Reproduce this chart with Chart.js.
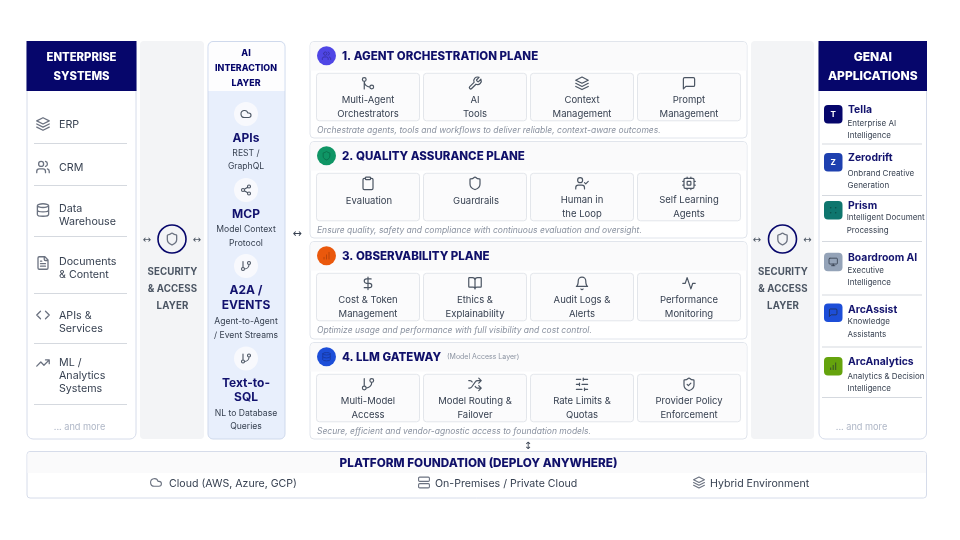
<!DOCTYPE html>
<html>
<head>
<meta charset="utf-8">
<title>Enterprise AI platform</title>
<script src="https://cdn.jsdelivr.net/npm/chart.js@4/dist/chart.umd.min.js"></script>
<style>
    html, body { margin: 0; padding: 0; background: #fff; }
    canvas { display: block; }
</style>
</head>
<body>
<canvas id="diagram" width="960" height="540"></canvas>
<script>
// text content of the diagram
const enterpriseTitle = ['ENTERPRISE', 'SYSTEMS'];
const enterpriseItems = ['ERP', 'CRM', 'Data\nWarehouse', 'Documents\n& Content', 'APIs &\nServices', 'ML /\nAnalytics\nSystems'];
const moreLabel = '... and more';
const securityLabel = ['SECURITY', '& ACCESS', 'LAYER'];
const interactionTitle = ['AI', 'INTERACTION', 'LAYER'];
const interactionNames = ['APIs', 'MCP', 'A2A /\nEVENTS', 'Text-to-\nSQL'];
const interactionNotes = ['REST /\nGraphQL', 'Model Context\nProtocol', 'Agent-to-Agent\n/ Event Streams', 'NL to Database\nQueries'];
const planeTitles = ['1. AGENT ORCHESTRATION PLANE', '2. QUALITY ASSURANCE PLANE', '3. OBSERVABILITY PLANE', '4. LLM GATEWAY'];
const planeCards = [
    ['Multi-Agent\nOrchestrators', 'AI\nTools', 'Context\nManagement', 'Prompt\nManagement'],
    ['Evaluation', 'Guardrails', 'Human in\nthe Loop', 'Self Learning\nAgents'],
    ['Cost & Token\nManagement', 'Ethics &\nExplainability', 'Audit Logs &\nAlerts', 'Performance\nMonitoring'],
    ['Multi-Model\nAccess', 'Model Routing &\nFailover', 'Rate Limits &\nQuotas', 'Provider Policy\nEnforcement']
];
const planeNotes = [
    'Orchestrate agents, tools and workflows to deliver reliable, context-aware outcomes.',
    'Ensure quality, safety and compliance with continuous evaluation and oversight.',
    'Optimize usage and performance with full visibility and cost control.',
    'Secure, efficient and vendor-agnostic access to foundation models.'
];
const gatewayNote = '(Model Access Layer)';
const appsTitle = ['GENAI', 'APPLICATIONS'];
const appNames = ['Tella', 'Zerodrift', 'Prism', 'Boardroom AI', 'ArcAssist', 'ArcAnalytics'];
const appNotes = ['Enterprise AI\nIntelligence', 'Onbrand Creative\nGeneration', 'Intelligent Document\nProcessing', 'Executive\nIntelligence', 'Knowledge\nAssistants', 'Analytics & Decision\nIntelligence'];
const foundationTitle = 'PLATFORM FOUNDATION (DEPLOY ANYWHERE)';
const foundationItems = ['Cloud (AWS, Azure, GCP)', 'On-Premises / Private Cloud', 'Hybrid Environment'];

const NAVY = '#06066b';
const BORDER = '#d6dcea';
const BODY = 'Inter, sans-serif';

// lucide style glyphs on a 24 unit grid
function ring(x, y, r) {
    return `M${x - r} ${y}a${r} ${r} 0 1 0 ${2 * r} 0a${r} ${r} 0 1 0 ${-2 * r} 0`;
}
const glyphs = {
    layers: 'M12 2 2 7l10 5 10-5-10-5ZM2 17l10 5 10-5M2 12l10 5 10-5',
    users: 'M16 21v-2a4 4 0 0 0-4-4H6a4 4 0 0 0-4 4v2' + ring(9, 7, 4) + 'M22 21v-2a4 4 0 0 0-3-3.87M16 3.13a4 4 0 0 1 0 7.75',
    database: 'M3 5a9 3 0 1 0 18 0a9 3 0 1 0-18 0M3 5V19A9 3 0 0 0 21 19V5M3 12A9 3 0 0 0 21 12',
    file: 'M15 2H6a2 2 0 0 0-2 2v16a2 2 0 0 0 2 2h12a2 2 0 0 0 2-2V7ZM14 2v4a2 2 0 0 0 2 2h4M10 9H8M16 13H8M16 17H8',
    code: 'M16 18l6-6-6-6M8 6l-6 6 6 6',
    trend: 'M22 7 13.5 15.5 8.5 10.5 2 17M16 7h6v6',
    shield: 'M20 13c0 5-3.5 7.5-7.66 8.95a1 1 0 0 1-.67-.01C7.5 20.5 4 18 4 13V6a1 1 0 0 1 1-1c2 0 4.5-1.2 6.24-2.72a1.17 1.17 0 0 1 1.52 0C14.51 3.81 17 5 19 5a1 1 0 0 1 1 1z',
    shieldCheck: 'M20 13c0 5-3.5 7.5-7.66 8.95a1 1 0 0 1-.67-.01C7.5 20.5 4 18 4 13V6a1 1 0 0 1 1-1c2 0 4.5-1.2 6.24-2.72a1.17 1.17 0 0 1 1.52 0C14.51 3.81 17 5 19 5a1 1 0 0 1 1 1zM9 12l2 2 4-4',
    cloud: 'M17.5 19H9a7 7 0 1 1 6.71-9h1.79a4.5 4.5 0 1 1 0 9Z',
    share: ring(18, 5, 3) + ring(6, 12, 3) + ring(18, 19, 3) + 'M8.59 13.51 15.42 17.49M15.41 6.51 8.59 10.49',
    branch: 'M6 3V15' + ring(18, 6, 3) + ring(6, 18, 3) + 'M18 9a9 9 0 0 1-9 9',
    merge: ring(18, 18, 3) + ring(6, 6, 3) + 'M6 21V9a9 9 0 0 0 9 9',
    wrench: 'M14.7 6.3a1 1 0 0 0 0 1.4l1.6 1.6a1 1 0 0 0 1.4 0l3.77-3.77a6 6 0 0 1-7.94 7.94l-6.91 6.91a2.12 2.12 0 0 1-3-3l6.91-6.91a6 6 0 0 1 7.94-7.94l-3.76 3.76z',
    message: 'M21 15a2 2 0 0 1-2 2H7l-4 4V5a2 2 0 0 1 2-2h14a2 2 0 0 1 2 2z',
    clipboard: 'M9 2h6a1 1 0 0 1 1 1v2a1 1 0 0 1-1 1H9a1 1 0 0 1-1-1V3a1 1 0 0 1 1-1M16 4h2a2 2 0 0 1 2 2v14a2 2 0 0 1-2 2H6a2 2 0 0 1-2-2V6a2 2 0 0 1 2-2h2',
    userCheck: 'M16 21v-2a4 4 0 0 0-4-4H6a4 4 0 0 0-4 4v2' + ring(9, 7, 4) + 'M16 11l2 2 4-4',
    cpu: 'M6 4h12a2 2 0 0 1 2 2v12a2 2 0 0 1-2 2H6a2 2 0 0 1-2-2V6a2 2 0 0 1 2-2M10 9h4a1 1 0 0 1 1 1v4a1 1 0 0 1-1 1h-4a1 1 0 0 1-1-1v-4a1 1 0 0 1 1-1M15 2v2M15 20v2M2 15h2M2 9h2M20 15h2M20 9h2M9 2v2M9 20v2',
    dollar: 'M12 2V22M17 5H9.5a3.5 3.5 0 0 0 0 7h5a3.5 3.5 0 0 1 0 7H6',
    book: 'M12 7v14M3 18a1 1 0 0 1-1-1V4a1 1 0 0 1 1-1h5a4 4 0 0 1 4 4 4 4 0 0 1 4-4h5a1 1 0 0 1 1 1v13a1 1 0 0 1-1 1h-6a3 3 0 0 0-3 3 3 3 0 0 0-3-3z',
    bell: 'M6 8a6 6 0 0 1 12 0c0 7 3 9 3 9H3s3-2 3-9M10.3 21a1.94 1.94 0 0 0 3.4 0',
    activity: 'M22 12h-4l-3 9L9 3l-3 9H2',
    shuffle: 'M2 18h1.4c1.3 0 2.5-.6 3.3-1.7l6.1-8.6c.7-1.1 2-1.7 3.3-1.7H22M18 2l4 4-4 4M2 6h1.9c1.5 0 2.9.9 3.6 2.2M22 18h-5.9c-1.3 0-2.6-.7-3.3-1.8l-.5-.8M18 14l4 4-4 4',
    sliders: 'M21 4h-7M10 4H3M21 12h-9M8 12H3M21 20h-5M12 20H3M14 2v4M8 10v4M16 18v4',
    server: 'M4 2h16a2 2 0 0 1 2 2v4a2 2 0 0 1-2 2H4a2 2 0 0 1-2-2V4a2 2 0 0 1 2-2M4 14h16a2 2 0 0 1 2 2v4a2 2 0 0 1-2 2H4a2 2 0 0 1-2-2v-4a2 2 0 0 1 2-2',
    bars: 'M12 20V10M18 20V4M6 20v-4',
    monitor: 'M4 3h16a2 2 0 0 1 2 2v10a2 2 0 0 1-2 2H4a2 2 0 0 1-2-2V5a2 2 0 0 1 2-2M8 21h8M12 17v4',
    dots: 'M6 6h.01M18 6h.01M6 18h.01M18 18h.01'
};
const enterpriseGlyphs = ['layers', 'users', 'database', 'file', 'code', 'trend'];
const interactionGlyphs = ['cloud', 'share', 'branch', 'branch'];
const planeGlyphs = ['users', 'shield', 'bars', 'database'];
const cardGlyphs = [
    ['merge', 'wrench', 'layers', 'message'],
    ['clipboard', 'shield', 'userCheck', 'cpu'],
    ['dollar', 'book', 'bell', 'activity'],
    ['branch', 'shuffle', 'sliders', 'shieldCheck']
];
const appGlyphs = [null, null, 'dots', 'monitor', 'message', 'bars'];
const foundationGlyphs = ['cloud', 'server', 'layers'];

const diagramPlugin = {
    id: 'diagram',
    afterDraw(chart) {
        const ctx = chart.ctx;
        const sx = chart.scales.x, sy = chart.scales.y;
        const X = v => sx.getPixelForValue(v);
        const Y = v => sy.getPixelForValue(v);

        function box(x0, y0, x1, y1, r, fill, stroke, lw) {
            ctx.beginPath();
            ctx.roundRect(X(x0), Y(y0), X(x1) - X(x0), Y(y1) - Y(y0), r);
            if (fill) { ctx.fillStyle = fill; ctx.fill(); }
            if (stroke) { ctx.strokeStyle = stroke; ctx.lineWidth = lw || 1; ctx.stroke(); }
        }
        function label(str, x, y, font, color, align, spacing) {
            ctx.font = font;
            ctx.fillStyle = color;
            ctx.textAlign = align || 'center';
            ctx.textBaseline = 'middle';
            ctx.letterSpacing = (spacing || 0) + 'px';
            ctx.fillText(str, X(x), Y(y + 0.7));
            ctx.letterSpacing = '0px';
        }
        function rule(x0, x1, y, color) {
            ctx.beginPath();
            ctx.moveTo(X(x0), Y(y));
            ctx.lineTo(X(x1), Y(y));
            ctx.strokeStyle = color;
            ctx.lineWidth = 1;
            ctx.stroke();
        }
        function glyph(name, cx, cy, size, color, lw) {
            const k = size / 24;
            ctx.save();
            ctx.translate(X(cx) - size / 2, Y(cy) - size / 2);
            ctx.scale(k, k);
            ctx.strokeStyle = color;
            ctx.lineWidth = (lw || 1.3) / k;
            ctx.lineCap = 'round';
            ctx.lineJoin = 'round';
            ctx.stroke(new Path2D(glyphs[name]));
            ctx.restore();
        }
        function disc(cx, cy, r, fill, stroke, lw) {
            ctx.beginPath();
            ctx.arc(X(cx), Y(cy), r, 0, Math.PI * 2);
            if (fill) { ctx.fillStyle = fill; ctx.fill(); }
            if (stroke) { ctx.strokeStyle = stroke; ctx.lineWidth = lw; ctx.stroke(); }
        }

        // side panel with navy header
        function sidePanel(x0, x1, title, size) {
            box(x0, 41.5, x1, 439, 6, '#fff', BORDER, 1);
            ctx.beginPath();
            ctx.rect(X(x0 - 0.5), Y(41), X(x1) - X(x0) + 1, Y(91) - Y(41));
            ctx.fillStyle = NAVY;
            ctx.fill();
            title.forEach((t, i) => label(t, (x0 + x1) / 2, 56.5 + i * 19, '800 ' + size + 'px ' + BODY, '#fff'));
        }

        // enterprise systems
        sidePanel(27, 136, enterpriseTitle, 11.3);
        const itemFirstLine = [124, 167, 208, 261.5, 315, 362];
        const itemRule = [143.5, 185.5, 236.5, 293.5, 343.5, 404.5];
        const itemIcon = [124, 167, 210, 263, 315, 363];
        enterpriseItems.forEach((item, i) => {
            glyph(enterpriseGlyphs[i], 43, itemIcon[i], 15, '#6b7280');
            item.split('\n').forEach((t, j) => label(t, 59, itemFirstLine[i] + j * 13, '400 10.7px ' + BODY, '#374151', 'left'));
            rule(34, 127, itemRule[i], '#d5d9df');
        });
        label(moreLabel, 79.5, 427, '400 9.2px ' + BODY, '#aeb6c6');

        // security columns
        [[140, 204, 172, 147, 197], [751, 814, 782.5, 757, 807.5]].forEach(([x0, x1, cx, a0, a1]) => {
            box(x0, 41, x1, 439, 4, '#f3f4f6');
            disc(cx, 239, 14, '#f3f4f6', NAVY, 1.6);
            glyph('shield', cx, 239, 14, '#6b7280', 1.3);
            label('\u2194', a0, 240, '400 10px "DejaVu Sans"', '#4b5563');
            label('\u2194', a1, 240, '400 10px "DejaVu Sans"', '#4b5563');
            securityLabel.forEach((t, i) => label(t, cx + 0.5, 271.5 + i * 16.8, '700 9.7px ' + BODY, '#4b5563', 'center', 0.1));
        });

        // AI interaction layer
        box(208, 41.5, 285, 439, 5, '#e8effc', '#cfd9ec', 1);
        ctx.beginPath();
        ctx.roundRect(X(208.6), Y(42), X(284.4) - X(208.6), Y(91) - Y(42), [5, 5, 0, 0]);
        ctx.fillStyle = '#fdfdfe';
        ctx.fill();
        interactionTitle.forEach((t, i) => label(t, 246, 53 + i * 15, '800 8.9px ' + BODY, NAVY));
        const circleY = [114, 190, 266, 358.5];
        const nameY = [138, 214, 290.5, 383];
        const noteY = [153, 229.5, 321.5, 413];
        interactionNames.forEach((name, i) => {
            disc(246, circleY[i], 12, '#f8f9fd');
            glyph(interactionGlyphs[i], 246, circleY[i], 12, '#4b5563', 1.1);
            name.split('\n').forEach((t, j) => label(t, 246, nameY[i] - 0.5 + j * 14.3, '700 12px ' + BODY, '#12126e'));
            interactionNotes[i].split('\n').forEach((t, j) => label(t, 246, noteY[i] - 0.5 + j * 13.3, '400 8.6px ' + BODY, '#374151'));
        });
        label('\u2194', 297, 233, '400 11px "DejaVu Sans"', '#374151');

        // planes
        const planeTop = [41.5, 141.5, 241.5, 342.5];
        const planeBottom = [138, 238, 339, 439];
        const planeShift = [0, 100, 200, 301];
        const badgeColors = ['#4f46e5', '#0f9565', '#ea580c', '#1d4ed8'];
        const badgeInk = ['#3730a3', '#0b6e4b', '#b4430a', '#1638a0'];
        const cardX = [316.5, 423.5, 530.5, 637.5];
        planeTitles.forEach((title, p) => {
            const top = planeTop[p];
            const offset = planeShift[p];
            box(310, top, 747, planeBottom[p], 4, '#fff', '#e1e5ec', 1);
            box(310.5, top + 0.5, 746.5, top + 29, [4, 4, 0, 0], '#fafafb');
            disc(326.5, 55.7 + offset, 9.5, badgeColors[p]);
            glyph(planeGlyphs[p], 326.5, 55.7 + offset, 10, badgeInk[p], 0.9);
            label(title, 342, 55.5 + offset, '800 11.5px ' + BODY, '#10106a', 'left');
            planeCards[p].forEach((card, c) => {
                const x0 = cardX[c];
                const cx = x0 + 51.5;
                const y0 = 73.3 + offset;
                box(x0, y0, x0 + 103, y0 + 47.5, 3, '#fbfbfc', '#e3e6eb', 1);
                glyph(cardGlyphs[p][c], cx, y0 + 10, 15, '#4b5563', 1.2);
                const lines = card.split('\n');
                if (lines.length === 1) {
                    label(lines[0], cx + 1, y0 + 27.5, '400 9.5px ' + BODY, '#374151');
                } else {
                    lines.forEach((t, j) => label(t, cx, y0 + 26 + j * 14, '400 9.5px ' + BODY, '#374151'));
                }
            });
            label(planeNotes[p], 317, 129.5 + offset, 'italic 400 8.52px ' + BODY, '#8a92a0', 'left');
        });
        label(gatewayNote, 447, 356.5, '400 7px ' + BODY, '#8b93a1', 'left');

        // GenAI applications
        sidePanel(819, 926.5, appsTitle, 12);
        const iconTop = [105, 153, 201, 252.7, 303.5, 357];
        const iconColors = ['#06066b', '#1e40af', '#0f766e', '#94a3b8', '#1d4ed8', '#65a30d'];
        const appNameY = [110, 158, 206, 258, 309.5, 362];
        const appNoteY = [123, 173, 217.5, 270, 321.5, 376];
        const appRule = [144, 195.5, 241.5, 295, 347, 397.5];
        appNames.forEach((name, i) => {
            box(824, iconTop[i], 842.5, iconTop[i] + 18.5, 4, iconColors[i]);
            const cy = iconTop[i] + 9.25;
            if (i < 2) {
                label(name[0], 833.2, cy, '700 8px ' + BODY, '#fff');
            } else {
                glyph(appGlyphs[i], 833.2, cy, 10, i === 2 ? '#0b4f4a' : '#1f2937aa', i === 2 ? 1.6 : 1);
            }
            const noteX = i === 2 ? 846.7 : 847.5;
            label(name, 848, appNameY[i] - 0.5, '700 10.4px ' + BODY, '#14146e', 'left');
            appNotes[i].split('\n').forEach((t, j) => label(t, noteX, appNoteY[i] - 0.5 + j * 12.5, '400 8px ' + BODY, '#374151', 'left'));
            rule(822, 922, appRule[i], '#d5d9df');
        });
        label(moreLabel, 861.5, 427, '400 9.2px ' + BODY, '#aeb6c6');

        // platform foundation
        label('\u2195', 528, 445.5, '400 10px "DejaVu Sans"', '#374151');
        box(27, 451.5, 926.5, 498, 3, '#fff', BORDER, 1);
        box(27.5, 452, 926, 473, [3, 3, 0, 0], '#fafafb');
        label(foundationTitle, 478.5, 462.5, '800 11.75px ' + BODY, '#10106a');
        const foundationX = [169, 435, 710];
        const foundationIcon = [156, 424, 699];
        foundationItems.forEach((t, i) => {
            glyph(foundationGlyphs[i], foundationIcon[i], 482.5, 13, '#6b7280', 1.1);
            label(t, foundationX[i], 483, '400 10.6px ' + BODY, '#374151', 'left');
        });
    }
};

new Chart(document.getElementById('diagram'), {
    type: 'scatter',
    data: { datasets: [] },
    options: {
        responsive: false,
        animation: false,
        layout: { padding: 0 },
        plugins: { legend: { display: false }, tooltip: { enabled: false } },
        scales: {
            x: { type: 'linear', min: 0, max: 960, display: false },
            y: { type: 'linear', min: 0, max: 540, reverse: true, display: false }
        }
    },
    plugins: [diagramPlugin]
});
</script>
</body>
</html>
